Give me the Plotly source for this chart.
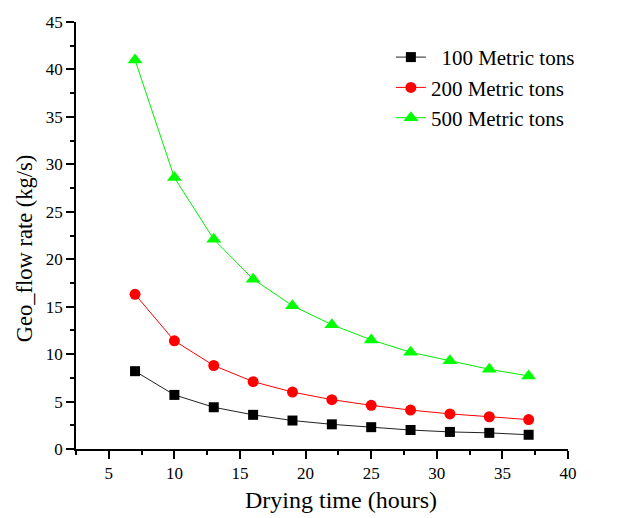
import plotly.graph_objects as go

drying_time = [7, 10, 13, 16, 19, 22, 25, 28, 31, 34, 37]
flow_100 = [8.2, 5.7, 4.4, 3.6, 3.0, 2.6, 2.3, 2.0, 1.8, 1.7, 1.5]
flow_200 = [16.3, 11.4, 8.8, 7.1, 6.0, 5.2, 4.6, 4.1, 3.7, 3.4, 3.1]
flow_500 = [41.0, 28.6, 22.1, 17.9, 15.1, 13.1, 11.5, 10.2, 9.3, 8.4, 7.7]
series_names = ["  100 Metric tons", "200 Metric tons", "500 Metric tons"]
x_title = "Drying time (hours)"
y_title = "Geo_flow rate (kg/s)"

font = "Liberation Serif, Times New Roman, serif"

fig = go.Figure()
fig.add_trace(go.Scatter(x=drying_time, y=flow_100, name=series_names[0], mode="lines+markers",
                         line=dict(color="#222222", width=1),
                         marker=dict(symbol="square", size=10, color="black")))
fig.add_trace(go.Scatter(x=drying_time, y=flow_200, name=series_names[1], mode="lines+markers",
                         line=dict(color="red", width=1),
                         marker=dict(symbol="circle", size=11, color="red")))
fig.add_trace(go.Scatter(x=drying_time, y=flow_500, name=series_names[2], mode="lines+markers",
                         line=dict(color="#00ee00", width=1),
                         marker=dict(symbol="triangle-up", size=13, color="#00ff00")))

axis_common = dict(showline=True, linecolor="black", linewidth=1.5, ticks="outside",
                   ticklen=8, tickwidth=1.5, tickcolor="black", showgrid=False, zeroline=False,
                   automargin=False,
                   tickfont=dict(family=font, size=17, color="black"))

fig.update_xaxes(range=[2.5, 40], tick0=5, dtick=5,
                 minor=dict(ticks="outside", ticklen=4, tickwidth=1.5, tickcolor="black", dtick=2.5, tick0=2.5),
                 **axis_common)
fig.update_yaxes(range=[0, 45], tick0=0, dtick=5,
                 minor=dict(ticks="outside", ticklen=4, tickwidth=1.5, tickcolor="black", dtick=2.5, tick0=0),
                 **axis_common)

fig.add_annotation(text=x_title, xref="paper", yref="paper", x=0.5386, y=0,
                   xanchor="center", yanchor="middle", yshift=-51, showarrow=False,
                   font=dict(family=font, size=24, color="black"))
fig.add_annotation(text=y_title, xref="paper", yref="paper", x=0, y=0.468,
                   xanchor="center", yanchor="middle", xshift=-52, textangle=-90, showarrow=False,
                   font=dict(family=font, size=22.5, color="black"))

fig.update_layout(
    width=613, height=510,
    margin=dict(l=68, r=53, t=14, b=69),
    plot_bgcolor="white", paper_bgcolor="white",
    legend=dict(x=0.64, y=0.965, xanchor="left", yanchor="top",
                font=dict(family=font, size=21, color="black"),
                bgcolor="rgba(0,0,0,0)", tracegroupgap=0),
)

fig.write_html("out.html")
